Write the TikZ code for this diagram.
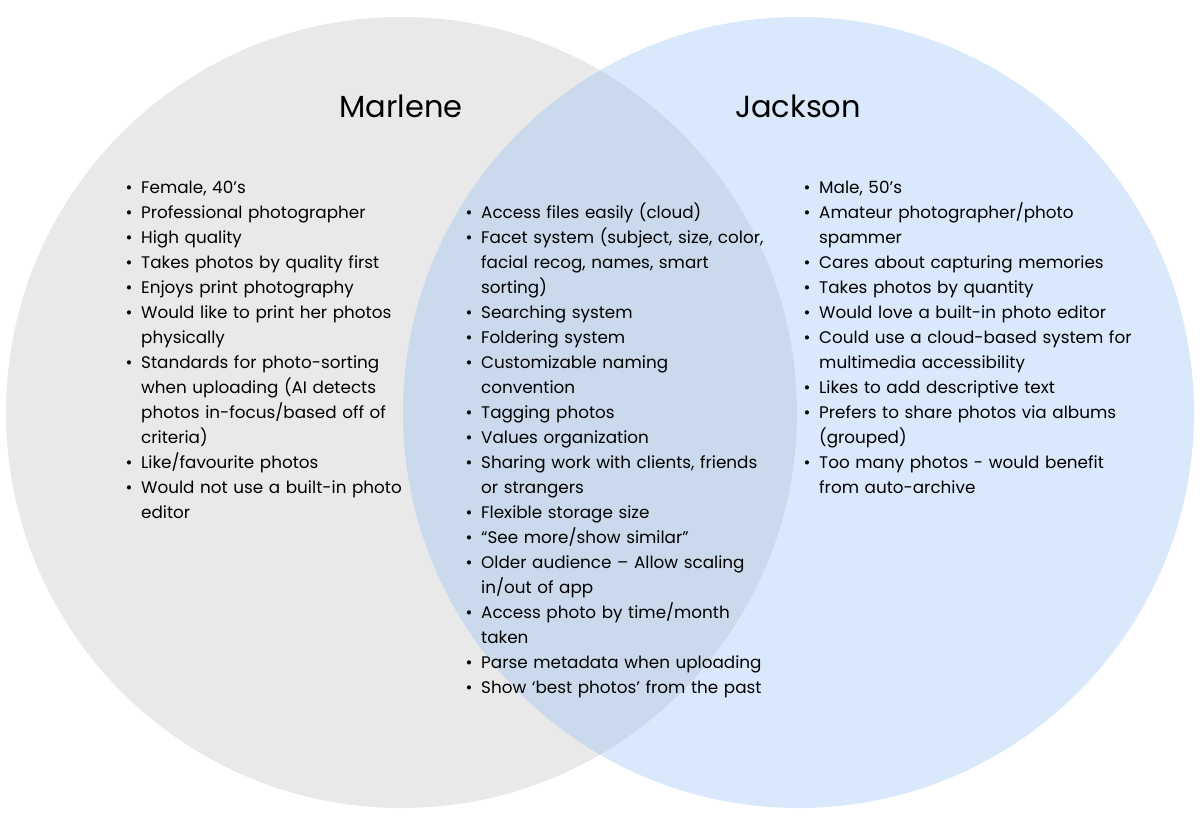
\documentclass[tikz,border=0pt]{standalone}
\usepackage{fontspec}
\setmainfont{Poppins}
\usetikzlibrary{positioning}

\definecolor{marlenegray}{HTML}{E9E9E9}
\definecolor{jacksonblue}{HTML}{DAE8FC}
\definecolor{bothblue}{HTML}{CADAEC}
\newlength{\bulletind}
\setlength{\bulletind}{13.5pt}
\newcommand{\itm}[1]{\par\hangindent=\bulletind\hangafter=1\noindent\makebox[\bulletind][l]{\hspace{-2pt}\textbullet}\strut#1}

\tikzset{
  title/.style={font=\fontsize{30.5}{36}\selectfont},
  list/.style={anchor=north west,inner sep=0pt,text width=340pt,
    font=\fontsize{16.8}{25}\selectfont\raggedright}
}

\begin{document}
\begin{tikzpicture}[x=1pt,y=-1pt]
\useasboundingbox (0,0) rectangle (1200,828);

% the two circles and their overlap
\coordinate (mc) at (401.5,412.5);
\coordinate (jc) at (798.5,412.5);
\fill[marlenegray] (mc) circle (395.5pt);
\fill[jacksonblue] (jc) circle (395.5pt);
\begin{scope}
\clip (mc) circle (395.5pt);
\fill[bothblue] (jc) circle (395.5pt);
\end{scope}

\node[title] (marlene) at (401,106){Marlene};
\node[title] (jackson) at (798,106){Jackson};

% Marlene
\node[list] (mlist) at (127.5,168){%
\itm{Female, 40’s}
\itm{Professional photographer}
\itm{High quality}
\itm{Takes photos by quality first}
\itm{Enjoys print photography}
\itm{Would like to print her photos\newline physically}
\itm{Standards for photo-sorting\newline when uploading (AI detects\newline photos in-focus/based off of\newline criteria)}
\itm{Like/favourite photos}
\itm{Would not use a built-in photo\newline editor}\par};

% both
\node[list] (blist) at (467.5,193){%
\itm{Access files easily (cloud)}
\itm{Facet system (subject, size, color,\newline facial recog, names, smart\newline sorting)}
\itm{Searching system}
\itm{Foldering system}
\itm{Customizable naming\newline convention}
\itm{Tagging photos}
\itm{Values organization}
\itm{Sharing work with clients, friends\newline or strangers}
\itm{Flexible storage size}
\itm{“See more/show similar”}
\itm{Older audience – Allow scaling\newline in/out of app}
\itm{Access photo by time/month\newline taken}
\itm{Parse metadata when uploading}
\itm{Show ‘best photos’ from the past}\par};

% Jackson
\node[list] (jlist) at (805.5,168){%
\itm{Male, 50’s}
\itm{Amateur photographer/photo\newline spammer}
\itm{Cares about capturing memories}
\itm{Takes photos by quantity}
\itm{Would love a built-in photo editor}
\itm{Could use a cloud-based system for\newline multimedia accessibility}
\itm{Likes to add descriptive text}
\itm{Prefers to share photos via albums\newline (grouped)}
\itm{Too many photos - would benefit\newline from auto-archive}\par};
\end{tikzpicture}
\end{document}
